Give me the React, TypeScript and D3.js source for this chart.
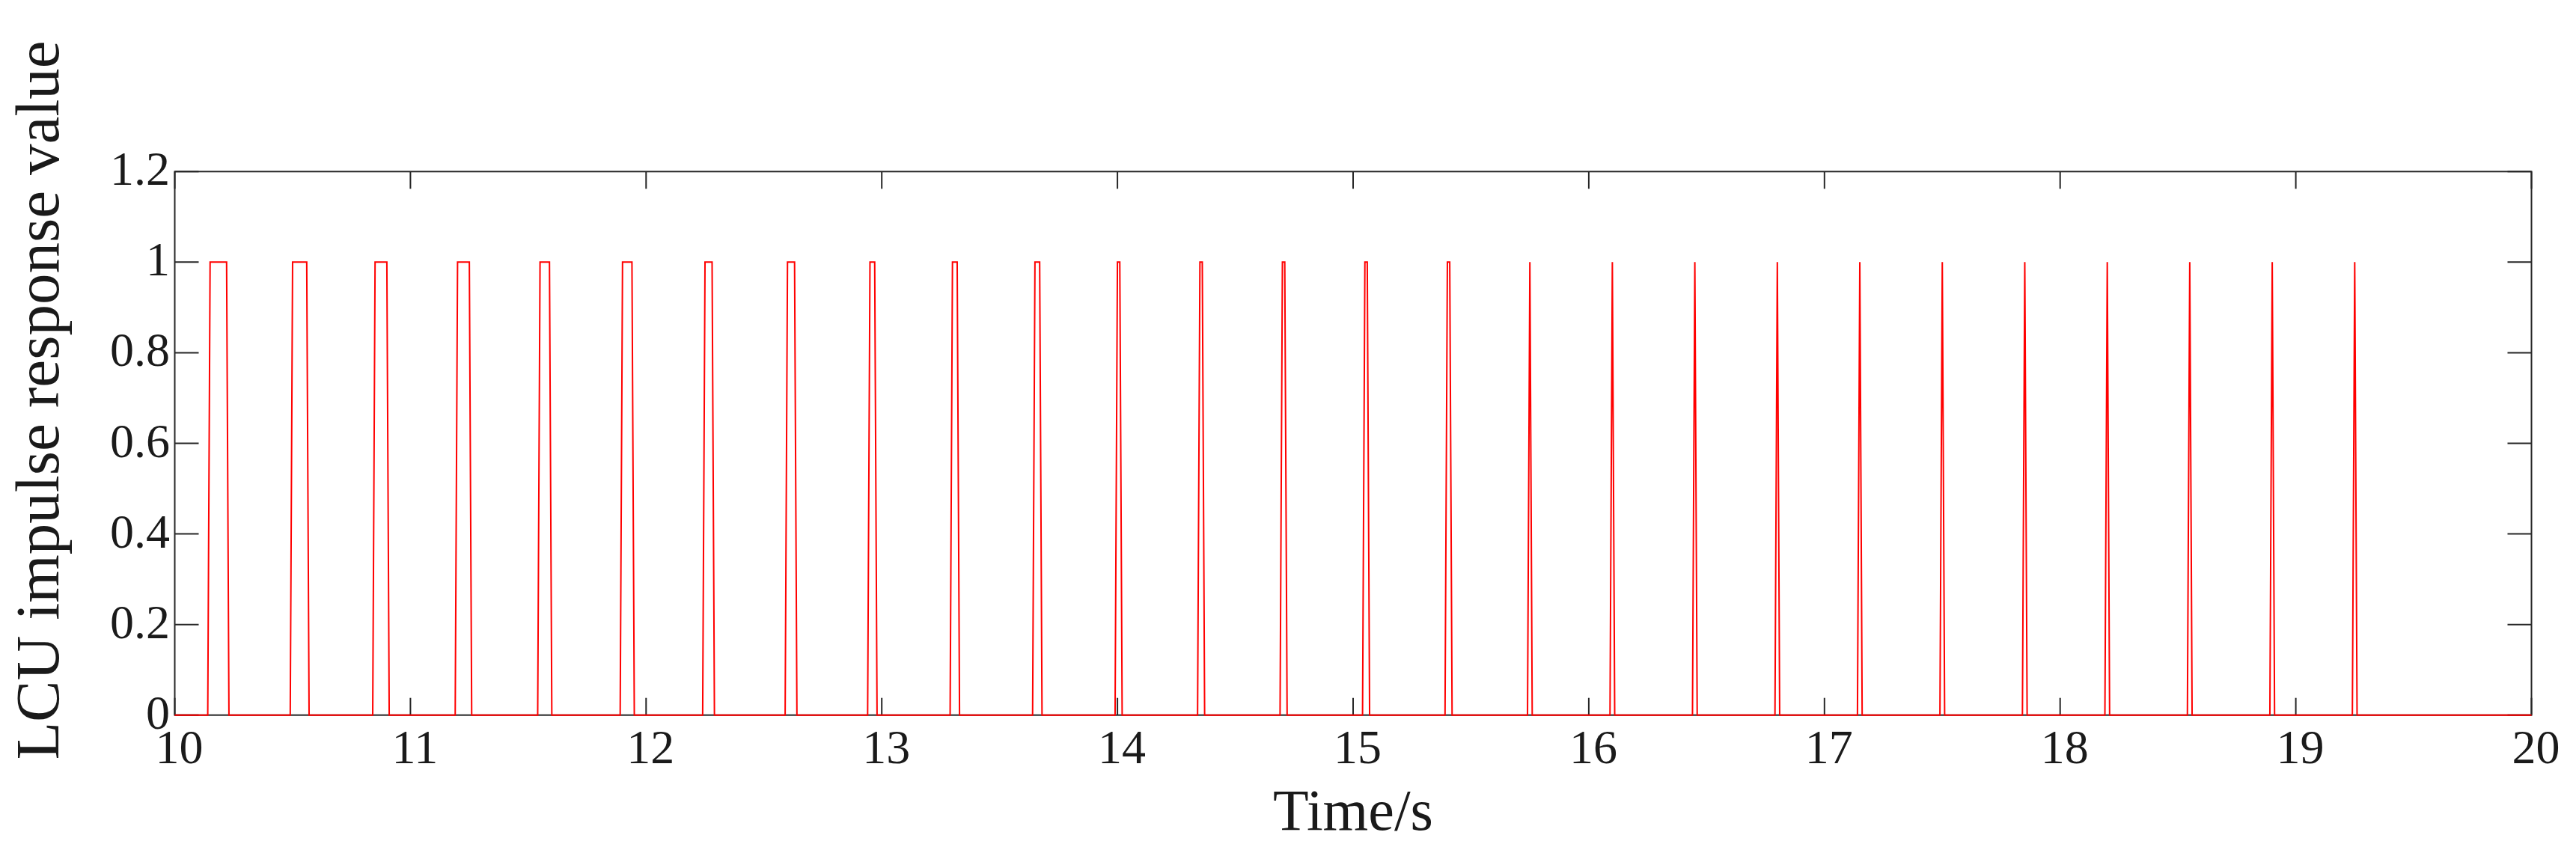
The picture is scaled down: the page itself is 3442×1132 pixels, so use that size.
import React from "react";
import * as d3 from "d3";

// ---- data ----
const xTicks = [10, 11, 12, 13, 14, 15, 16, 17, 18, 19, 20];
const xTickLabels = ["10", "11", "12", "13", "14", "15", "16", "17", "18", "19", "20"];
const yTicks = [0, 0.2, 0.4, 0.6, 0.8, 1, 1.2];
const yTickLabels = ["0", "0.2", "0.4", "0.6", "0.8", "1", "1.2"];

// time (s) where each pulse reaches 1, and time where it leaves 1
const pulseStart = [
  10.15, 10.5, 10.85, 11.2, 11.55, 11.9, 12.25, 12.6, 12.95, 13.3, 13.65, 14.0, 14.35, 14.7,
  15.05, 15.4, 15.75, 16.1, 16.45, 16.8, 17.15, 17.5, 17.85, 18.2, 18.55, 18.9, 19.25,
];
const pulseEnd = [
  10.22, 10.56, 10.9, 11.25, 11.59, 11.94, 12.28, 12.63, 12.97, 13.32, 13.67, 14.01, 14.36, 14.71,
  15.06, 15.41, 15.75, 16.1, 16.45, 16.8, 17.15, 17.5, 17.85, 18.2, 18.55, 18.9, 19.25,
];
const sampleStep = 0.01;
const pulseHigh = 1;
const baseLevel = 0;
const timeRange = [10, 20];

const xTitle = "Time/s";
const yTitle = "LCU impulse response value";

export default function App() {
  const W = 3442;
  const H = 1132;
  const left = 233.5;
  const right = 3382.5;
  const top = 229.3;
  const bottom = 955.7;

  const x = d3.scaleLinear().domain(timeRange).range([left, right]);
  const y = d3.scaleLinear().domain([0, 1.2]).range([bottom, top]);

  const pts: [number, number][] = [[timeRange[0], baseLevel]];
  pulseStart.forEach((s, i) => {
    const e = pulseEnd[i];
    pts.push([s - sampleStep, baseLevel]);
    pts.push([s, pulseHigh]);
    if (e > s) pts.push([e, pulseHigh]);
    pts.push([e + sampleStep, baseLevel]);
  });
  pts.push([timeRange[1], baseLevel]);

  const line = d3
    .line<[number, number]>()
    .x((d) => x(d[0]))
    .y((d) => y(d[1]));

  const axisColor = "#262626";
  const font = "'Liberation Serif', 'Times New Roman', serif";
  const yTickLen = 32;
  const xTickLen = 23;

  return (
    <svg
      width={W}
      height={H}
      style={{ position: "absolute", left: 0, top: 0, background: "#fff" }}
    >
      <rect x={0} y={0} width={W} height={H} fill="#fff" />
      {/* ticks */}
      {xTicks.map((t) => (
        <g key={"xt" + t} stroke={axisColor} strokeWidth={2}>
          <line x1={x(t)} x2={x(t)} y1={bottom} y2={bottom - xTickLen} />
          <line x1={x(t)} x2={x(t)} y1={top} y2={top + xTickLen} />
        </g>
      ))}
      {yTicks.map((t) => (
        <g key={"yt" + t} stroke={axisColor} strokeWidth={2}>
          <line x1={left} x2={left + yTickLen} y1={y(t)} y2={y(t)} />
          <line x1={right} x2={right - yTickLen} y1={y(t)} y2={y(t)} />
        </g>
      ))}
      {/* box */}
      <rect
        x={left}
        y={top}
        width={right - left}
        height={bottom - top}
        fill="none"
        stroke={axisColor}
        strokeWidth={2}
      />
      {/* series */}
      <path d={line(pts) || ""} fill="none" stroke="#ff0000" strokeWidth={2} strokeLinejoin="miter" />
      {/* tick labels */}
      {xTicks.map((t, i) => (
        <text
          key={"xl" + t}
          x={x(t) + 6}
          y={1020}
          textAnchor="middle"
          fontFamily={font}
          fontSize={64}
          fill="#1a1a1a"
        >
          {xTickLabels[i]}
        </text>
      ))}
      {yTicks.map((t, i) => (
        <text
          key={"yl" + t}
          x={227}
          y={y(t) + 18}
          textAnchor="end"
          fontFamily={font}
          fontSize={64}
          fill="#1a1a1a"
        >
          {yTickLabels[i]}
        </text>
      ))}
      {/* axis titles */}
      <text
        x={(left + right) / 2}
        y={1109}
        textAnchor="middle"
        fontFamily={font}
        fontSize={78}
        fill="#1a1a1a"
      >
        {xTitle}
      </text>
      <text
        transform={`translate(78, 535) rotate(-90)`}
        textAnchor="middle"
        fontFamily={font}
        fontSize={83}
        fill="#1a1a1a"
      >
        {yTitle}
      </text>
    </svg>
  );
}
